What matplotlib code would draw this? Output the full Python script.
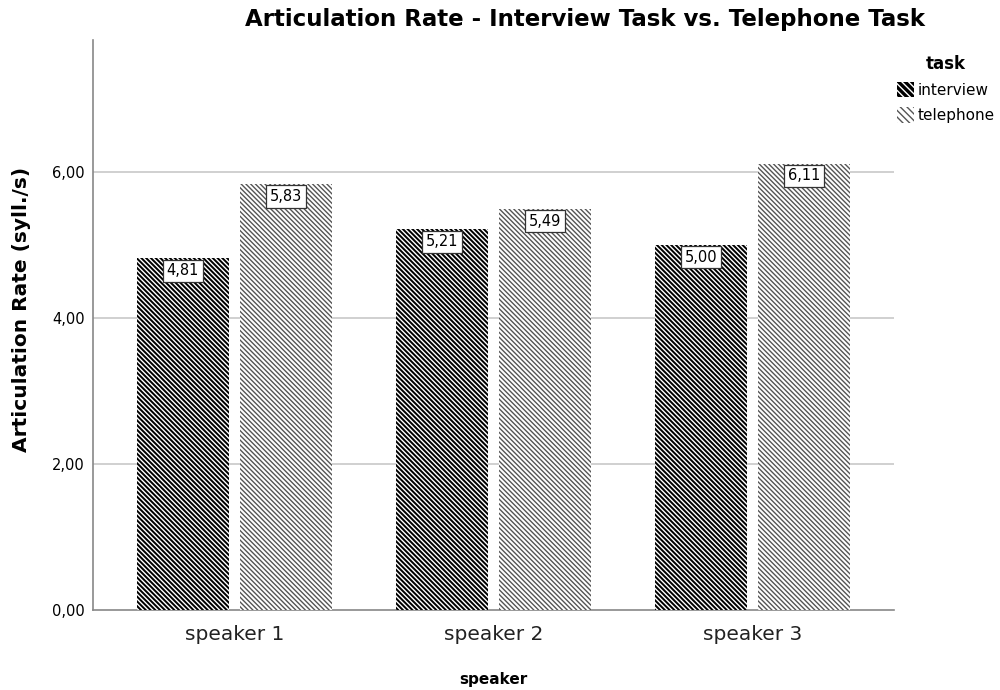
import numpy as np
import matplotlib
matplotlib.use("Agg")
import matplotlib.pyplot as plt
from matplotlib.patches import Patch

# Daten
speakers = ["speaker 1", "speaker 2", "speaker 3"]
interview = [4.81, 5.21, 5.00]
telephone = [5.83, 5.49, 6.11]

plt.rcParams["font.family"] = ["DejaVu Sans"]
plt.rcParams["hatch.linewidth"] = 1.0

fig = plt.figure(figsize=(10, 6.9), dpi=100)
ax = fig.add_axes([0.093, 0.116, 0.801, 0.826])

x = np.arange(len(speakers))
w = 0.355
off = 0.199
hatch = "\\" * 7

b1 = ax.bar(x - off, interview, w, color="black", edgecolor="white",
            linewidth=0, hatch=hatch, zorder=3)
b2 = ax.bar(x + off, telephone, w, color="white", edgecolor="#555555",
            linewidth=0, hatch=hatch, zorder=3)

def fmt(v):
    return f"{v:.2f}".replace(".", ",")

for bars, vals in [(b1, interview), (b2, telephone)]:
    for rect, v in zip(bars, vals):
        ax.text(rect.get_x() + rect.get_width() / 2, v - 0.17, fmt(v),
                ha="center", va="center", fontsize=10.5, zorder=5,
                bbox=dict(boxstyle="square,pad=0.25", fc="white", ec="#333333", lw=0.9))

ax.set_xlim(-0.546, 2.546)
ax.set_ylim(0, 7.8)
ax.set_yticks([0, 2, 4, 6])
ax.set_yticklabels([fmt(t) for t in [0, 2, 4, 6]], fontsize=10.5)
ax.set_xticks(x)
ax.set_xticklabels(speakers, fontsize=14.5, color="#222222")
ax.tick_params(axis="both", length=0)
ax.tick_params(axis="x", pad=11)
ax.tick_params(axis="y", pad=6)

for t in [2, 4, 6]:
    ax.axhline(t, color="#c8c8c8", lw=1.2, zorder=1)

for s in ["top", "right"]:
    ax.spines[s].set_visible(False)
ax.spines["left"].set_color("#888888")
ax.spines["bottom"].set_color("#888888")
ax.spines["left"].set_linewidth(1.2)
ax.spines["bottom"].set_linewidth(1.2)

fig.text(0.022, 0.551, "Articulation Rate (syll./s)", rotation=90, fontsize=14.5,
         fontweight="bold", ha="center", va="center")
fig.text(0.493, 0.015, "speaker", fontsize=11, fontweight="bold", ha="center", va="center")
fig.text(0.585, 0.972, "Articulation Rate - Interview Task vs. Telephone Task",
         fontsize=16.5, fontweight="bold", ha="center", va="center")

handles = [Patch(facecolor="black", edgecolor="white", hatch="\\" * 5, lw=0, label="interview"),
           Patch(facecolor="white", edgecolor="#555555", hatch="\\" * 5, lw=0, label="telephone")]
leg = fig.legend(handles=handles, loc="upper left", bbox_to_anchor=(0.889, 0.932),
                 frameon=False, fontsize=11, handlelength=1.15, handleheight=1.2,
                 handletextpad=0.2, labelspacing=0.6, title="task", borderpad=0,
                 title_fontproperties={"weight": "bold", "size": 12})

fig.savefig("out.png", dpi=100)
